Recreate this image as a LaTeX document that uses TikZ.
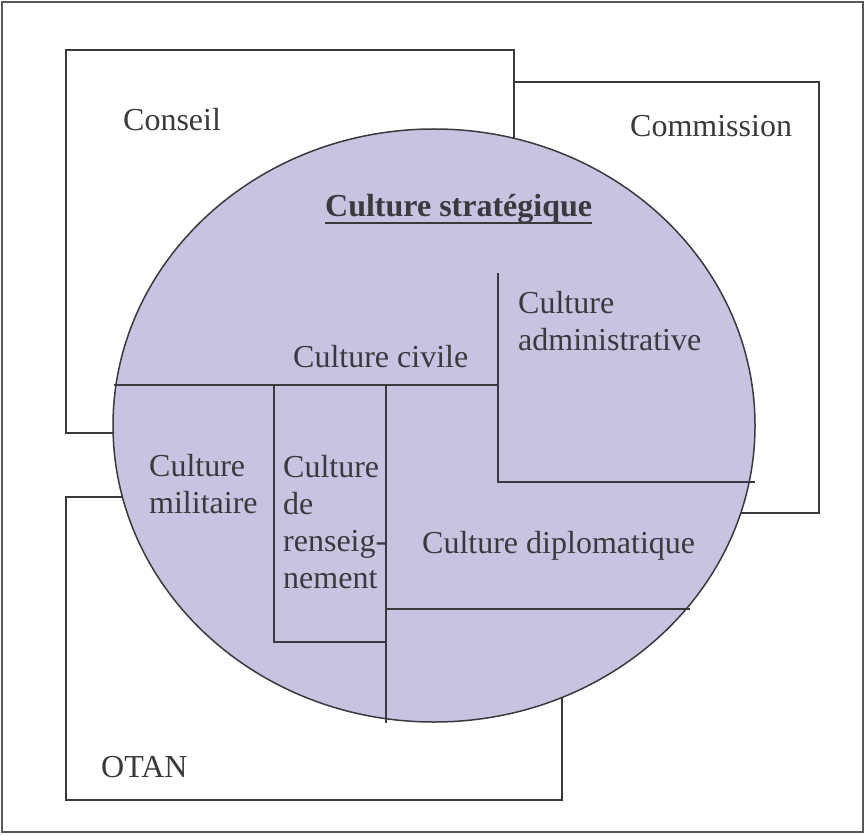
\documentclass[tikz,border=0pt]{standalone}
\usepackage{fontspec}
\setmainfont{Liberation Serif}
\definecolor{lavender}{RGB}{199,196,226}
\definecolor{ink}{RGB}{58,58,62}

\begin{document}
\begin{tikzpicture}[x=1pt, y=-1pt,
  frame/.style={draw=ink, line width=1.5pt},
  divider/.style={draw=ink, line width=1.5pt},
  lbl/.style={anchor=base west, inner sep=0pt, text=ink, align=left,
    font=\fontsize{32}{37}\selectfont}]
  \useasboundingbox (0,0) rectangle (866,834);

  % Outer frame
  \draw[frame, draw=ink!85] (2,2) rectangle (863,832);

  % Institutions
  \draw[frame, fill=white] (66,50) rectangle (514,433);
  \draw[frame, fill=white] (514,82) rectangle (819,513);
  \draw[frame, fill=white] (66,497) rectangle (562,800);
  \node[lbl] (conseil) at (123,131) {Conseil};
  \node[lbl] (commission) at (630,137) {Commission};
  \node[lbl] (otan) at (101,777) {OTAN};

  % Strategic culture
  \draw[frame, fill=lavender] (434,425.5) ellipse [x radius=321, y radius=296.5];
  \node[lbl, font=\fontsize{32}{37}\selectfont\bfseries] (strat) at (325,217) {Culture stratégique};
  \draw[ink, line width=2pt] ([yshift=-6pt]strat.base west) -- ([yshift=-6pt]strat.base east);

  % Sub-cultures (multi-line labels sit on their last line)
  \draw[divider] (114,385) -- (498,385);
  \draw[divider] (498,273) -- (498,482) -- (755,482);
  \draw[divider] (274,385) rectangle (386,642);
  \draw[divider] (386,385) -- (386,723);
  \draw[divider] (386,609) -- (690,609);

  \node[lbl] (civile) at (293,367) {Culture civile};
  \node[lbl] (admin) at (518,350) {Culture\\administrative};
  \node[lbl] (militaire) at (149,513) {Culture\\militaire};
  \node[lbl] (rens) at (283,588) {Culture\\de\\renseig-\\nement};
  \node[lbl] (diplo) at (422,553) {Culture diplomatique};
\end{tikzpicture}
\end{document}
